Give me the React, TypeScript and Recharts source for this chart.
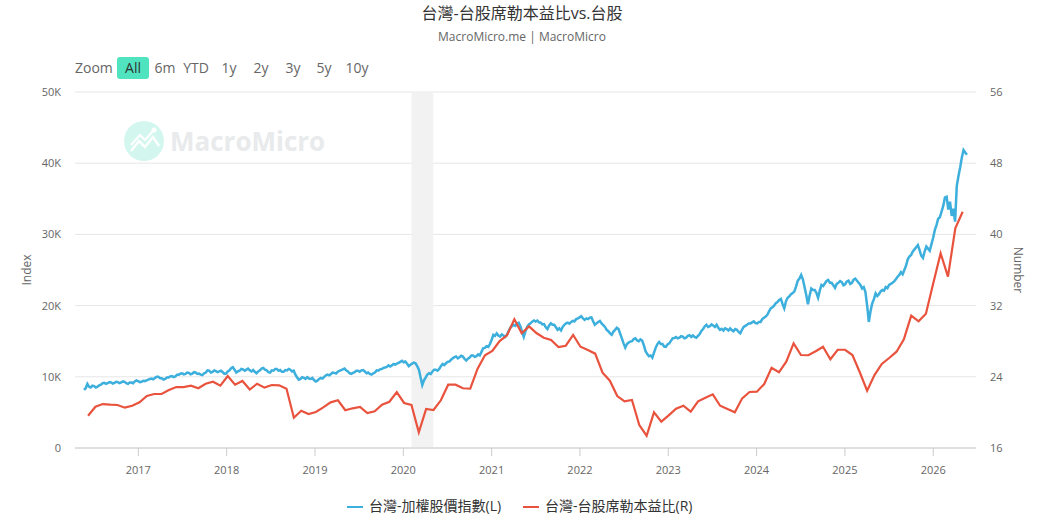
import React from "react";
import { ComposedChart, Line, XAxis, YAxis, CartesianGrid, ReferenceArea, Legend } from "recharts";

const TITLE = "台灣-台股席勒本益比vs.台股";
const SUBTITLE = "MacroMicro.me | MacroMicro";
const BLUE_NAME = "台灣-加權股價指數(L)";
const RED_NAME = "台灣-台股席勒本益比(R)";
const ZOOM_LABELS = ["All", "6m", "YTD", "1y", "2y", "3y", "5y", "10y"];
const YEAR_TICKS = [2017, 2018, 2019, 2020, 2021, 2022, 2023, 2024, 2025, 2026];
const LEFT_TICKS = [0, 10000, 20000, 30000, 40000, 50000];
const RIGHT_TICKS = [16, 24, 32, 40, 48, 56];
const RECESSION = [2020.093, 2020.34];

// Index level in thousands, sampled about weekly
const blueValues = [
  8.15, 8.4, 9.0, 8.6, 8.5, 8.75, 8.7, 8.5, 8.6, 8.8, 8.9, 9.1, 9.15, 9.0, 9.1, 9.25, 9.2, 9.05, 9.15, 9.3,
  9.25, 9.1, 9.2, 9.35, 9.3, 9.1, 9.0, 9.2, 9.2, 9.1, 9.35, 9.5, 9.4, 9.25, 9.3, 9.45, 9.4, 9.5, 9.6, 9.7,
  9.75, 9.65, 9.85, 10.0, 10.0, 9.8, 9.8, 9.6, 9.7, 9.9, 9.9, 10.05, 10.1, 9.95, 10.05, 10.3, 10.3, 10.45, 10.5, 10.35,
  10.4, 10.6, 10.55, 10.35, 10.45, 10.65, 10.6, 10.4, 10.45, 10.3, 10.25, 10.5, 10.6, 10.9, 10.85, 10.6, 10.7, 10.9, 10.8, 10.65,
  10.75, 10.85, 10.65, 10.4, 10.45, 10.75, 10.9, 11.2, 11.35, 11.0, 10.6, 10.75, 10.85, 11.1, 11.05, 10.85, 11.0, 11.15, 10.9, 10.75,
  10.95, 10.7, 10.5, 10.75, 10.9, 11.15, 11.25, 11.0, 10.9, 10.65, 10.6, 10.9, 10.85, 11.1, 11.1, 10.85, 10.95, 10.7, 10.7, 10.95,
  10.9, 11.1, 11.0, 10.75, 10.85, 10.3, 9.9, 9.6, 9.7, 9.95, 9.85, 9.7, 9.95, 9.75, 9.7, 9.85, 9.55, 9.35, 9.45, 9.7,
  9.85, 9.75, 10.0, 10.2, 10.3, 10.2, 10.4, 10.6, 10.55, 10.45, 10.7, 10.85, 10.95, 11.05, 11.15, 10.9, 10.75, 10.5, 10.4, 10.55,
  10.65, 10.85, 10.85, 10.7, 10.9, 10.95, 10.75, 10.5, 10.6, 10.4, 10.3, 10.5, 10.6, 10.9, 10.85, 11.05, 11.1, 11.25, 11.3, 11.4,
  11.6, 11.45, 11.6, 11.8, 11.7, 11.85, 11.95, 12.1, 12.25, 12.05, 12.15, 11.85, 11.5, 11.7, 11.85, 12.0, 11.9, 11.5, 11.0, 9.9,
  8.85, 9.5, 9.9, 10.3, 10.5, 10.4, 10.75, 11.0, 11.0, 10.85, 11.1, 11.5, 11.8, 11.65, 11.9, 12.1, 12.15, 12.4, 12.6, 12.75,
  12.85, 12.6, 12.75, 12.95, 12.85, 12.5, 12.3, 12.55, 12.7, 13.0, 13.0, 12.8, 12.9, 13.15, 13.0, 13.5, 14.0, 14.05, 14.3, 14.2,
  14.6, 15.2, 15.9, 15.75, 16.1, 15.8, 15.65, 15.95, 15.8, 15.6, 15.9, 16.4, 16.9, 17.1, 17.3, 17.15, 17.45, 17.6, 17.1, 16.3,
  15.6, 16.4, 17.0, 17.35, 17.5, 17.75, 17.9, 17.75, 17.9, 17.65, 17.6, 17.35, 17.4, 16.95, 16.7, 17.2, 17.5, 17.3, 17.3, 16.95,
  16.6, 16.8, 16.5, 17.0, 17.3, 17.5, 17.6, 17.45, 17.7, 17.85, 17.8, 18.1, 18.2, 18.35, 18.5, 18.2, 18.0, 18.2, 18.1, 18.3,
  18.35, 17.8, 17.3, 17.5, 17.7, 17.85, 17.5, 17.25, 17.0, 16.6, 16.4, 16.1, 15.9, 16.35, 16.6, 16.9, 16.7, 16.05, 15.4, 14.7,
  14.1, 14.6, 14.8, 14.95, 15.0, 15.3, 15.4, 15.1, 15.0, 15.25, 15.1, 14.4, 13.6, 13.2, 12.9, 13.0, 12.7, 13.4, 14.1, 14.6,
  14.9, 14.6, 14.6, 14.25, 14.2, 14.55, 14.7, 15.05, 15.4, 15.45, 15.6, 15.4, 15.5, 15.7, 15.65, 15.4, 15.5, 15.75, 15.85, 15.6,
  15.8, 15.6, 15.5, 15.75, 16.0, 16.45, 16.7, 17.1, 17.3, 17.0, 17.1, 17.35, 17.2, 17.0, 17.3, 16.9, 16.6, 16.75, 16.5, 16.8,
  16.7, 16.5, 16.8, 16.55, 16.4, 16.7, 16.6, 16.3, 16.1, 16.6, 17.0, 17.15, 17.3, 17.5, 17.5, 17.65, 17.8, 17.55, 17.5, 17.7,
  17.7, 18.1, 18.3, 18.45, 18.7, 19.2, 19.6, 19.75, 20.0, 20.35, 20.5, 20.8, 20.95, 20.2, 19.6, 20.6, 21.1, 21.3, 21.6, 21.75,
  22.0, 22.7, 23.5, 23.8, 24.3, 23.7, 22.6, 21.5, 20.2, 21.4, 22.4, 22.2, 22.2, 21.8, 21.1, 22.1, 22.9, 22.75, 23.1, 23.45,
  23.6, 23.2, 23.2, 22.85, 22.5, 23.05, 23.2, 23.45, 23.3, 22.85, 23.0, 23.4, 23.5, 23.05, 23.2, 23.65, 23.8, 23.5, 23.2, 22.9,
  22.4, 22.6, 21.9, 20.0, 17.7, 19.2, 20.3, 20.9, 21.7, 21.35, 21.6, 22.0, 22.2, 22.1, 22.6, 22.45, 22.9, 23.05, 23.2, 23.4,
  23.7, 24.05, 24.3, 24.7, 24.4, 25.0, 25.6, 26.5, 26.9, 27.1, 27.6, 27.9, 28.2, 28.5, 27.8, 27.0, 26.7, 27.6, 28.3, 28.0,
  27.7, 28.6, 29.5, 30.6, 31.3, 32.2, 32.4, 33.2, 34.0, 35.2, 35.3, 33.5, 34.6, 32.6, 33.6, 31.8, 36.8, 38.2, 39.4, 40.8,
  41.85, 41.5, 41.2,
];

// Monthly ratio, June 2016 onward
const redValues = [
  19.63, 20.64, 20.94, 20.87, 20.83, 20.53, 20.75, 21.13, 21.84, 22.07,
  22.07, 22.52, 22.85, 22.85, 23.0, 22.71, 23.22, 23.45, 23.0, 24.09,
  23.11, 23.53, 22.57, 23.22, 22.78, 23.08, 23.04, 22.66, 19.4, 20.19,
  19.82, 20.04, 20.57, 21.13, 21.36, 20.24, 20.46, 20.61, 19.93, 20.12,
  20.87, 21.2, 22.29, 21.06, 20.83, 17.76, 20.38, 20.27, 21.36, 23.11,
  23.11, 22.71, 22.66, 24.91, 26.42, 26.9, 28.02, 28.66, 30.46, 28.89,
  29.67, 28.92, 28.39, 28.13, 27.35, 27.49, 28.7, 27.38, 27.01, 26.6,
  24.46, 23.56, 21.84, 21.25, 21.39, 18.58, 17.38, 20.01, 18.96, 19.67,
  20.42, 20.75, 20.08, 21.25, 21.65, 22.03, 20.75, 20.38, 20.01, 21.58,
  22.29, 22.33, 23.19, 25.02, 24.51, 25.7, 27.76, 26.45, 26.42, 26.87,
  27.38, 25.97, 27.04, 27.04, 26.45, 24.51, 22.44, 24.2, 25.44, 26.11,
  26.82, 28.21, 30.87, 30.24, 31.09, 34.5, 37.88, 35.25, 40.69, 42.55,
];

const BLUE_START = 2016.385;
const BLUE_STEP = 0.01915;
const RED_START = 2016.431;
const RED_STEP = 0.08321;

const blueRows = blueValues.map((k, i) => ({ t: BLUE_START + i * BLUE_STEP, v: k * 1000 }));
const redRows = redValues.map((v, i) => ({ t: RED_START + i * RED_STEP, v }));

const FONT = '"Open Sans", "Noto Sans CJK TC", sans-serif';
const BLUE = "#3dafdc";
const RED = "#e9533e";
const fmtK = (v: number) => (v === 0 ? "0" : `${v / 1000}K`);

const ZOOM_X = [133, 165, 196, 229, 261, 293, 324, 357];

function LegendBox() {
  const item = (color: string, name: string, lineX: number, textX: number) => (
    <React.Fragment key={name}>
      <div style={{ position: "absolute", left: lineX, top: 13, width: 16, height: 2, background: color }} />
      <span style={{ position: "absolute", left: textX, top: 3, fontSize: 14, lineHeight: "20px", color: "#333", whiteSpace: "nowrap", fontFamily: FONT }}>{name}</span>
    </React.Fragment>
  );
  return (
    <div style={{ position: "relative", width: 1046, height: 30 }}>
      {item(BLUE, BLUE_NAME, 347, 369)}
      {item(RED, RED_NAME, 523, 545)}
    </div>
  );
}

export default function App() {
  return (
    <div style={{ position: "absolute", left: 0, top: 0, width: 1046, height: 525, overflow: "hidden", background: "#fff", fontFamily: FONT }}>
      <div style={{ position: "absolute", left: 0, width: 1046, top: 2, textAlign: "center", fontSize: 16, lineHeight: "22px", color: "#333", textIndent: -2 }}>{TITLE}</div>
      <div style={{ position: "absolute", left: 0, width: 1046, top: 28, textAlign: "center", fontSize: 12, lineHeight: "18px", color: "#666", textIndent: -2 }}>{SUBTITLE}</div>

      <span style={{ position: "absolute", left: 75, top: 58, fontSize: 14, lineHeight: "20px", color: "#666" }}>Zoom</span>
      <div style={{ position: "absolute", left: 117, top: 57, width: 32, height: 22, borderRadius: 3, background: "#4fe3bf" }} />
      {ZOOM_LABELS.map((z, i) => (
        <span key={z} style={{ position: "absolute", left: ZOOM_X[i] - 30, width: 60, top: 58, textAlign: "center", fontSize: 14, lineHeight: "20px", color: i === 0 ? "#333" : "#666" }}>{z}</span>
      ))}

      <svg width={240} height={60} style={{ position: "absolute", left: 120, top: 112 }}>
        <circle cx={24} cy={29} r={20} fill="#d3f7ee" />
        <polyline points="11,39 19,29 25,35 33,25 39,34" fill="none" stroke="#fff" strokeWidth={2.5} />
        <polyline points="11,33 20,23 25,28 33,19" fill="none" stroke="#fff" strokeWidth={2} />
        <circle cx={34} cy={18} r={2.5} fill="#fff" />
        <text x={50} y={39} fontSize={26} fontWeight={700} fill="#e8eaec" fontFamily={FONT}>MacroMicro</text>
      </svg>

      <div style={{ position: "absolute", left: 0, top: 0 }}>
        <ComposedChart width={1046} height={525} margin={{ top: 92, right: 0, bottom: 0, left: 0 }}>
          <CartesianGrid yAxisId="left" horizontal vertical={false} stroke="#e6e6e6" strokeWidth={1} syncWithTicks />
          <XAxis
            dataKey="t"
            type="number"
            domain={[2016.283, 2026.484]}
            ticks={YEAR_TICKS}
            allowDataOverflow
            height={30}
            stroke="#cccccc"
            tickSize={8}
            tickMargin={10}
            tick={{ fill: "#666", fontSize: 11, fontFamily: FONT }}
          />
          <YAxis
            yAxisId="left"
            domain={[0, 50000]}
            ticks={LEFT_TICKS}
            width={75}
            axisLine={false}
            tickLine={false}
            tickMargin={8}
            tickFormatter={fmtK}
            tick={{ fill: "#666", fontSize: 11, fontFamily: FONT }}
            label={{ value: "Index", angle: -90, position: "insideLeft", offset: 27, style: { fill: "#666", fontSize: 12, fontFamily: FONT, textAnchor: "middle" } }}
          />
          <YAxis
            yAxisId="right"
            orientation="right"
            domain={[16, 56]}
            ticks={RIGHT_TICKS}
            width={70}
            axisLine={false}
            tickLine={false}
            tickMargin={8}
            tick={{ fill: "#666", fontSize: 11, fontFamily: FONT }}
            label={{ value: "Number", angle: 90, position: "insideRight", offset: 28, style: { fill: "#666", fontSize: 12, fontFamily: FONT, textAnchor: "middle" } }}
          />
          <ReferenceArea yAxisId="left" x1={RECESSION[0]} x2={RECESSION[1]} y1={0} y2={50000} fill="#f2f2f2" fillOpacity={1} stroke="none" />
          <Line yAxisId="left" data={blueRows} dataKey="v" name={BLUE_NAME} stroke={BLUE} strokeWidth={2.5} dot={false} isAnimationActive={false} />
          <Line yAxisId="right" data={redRows} dataKey="v" name={RED_NAME} stroke={RED} strokeWidth={2.2} dot={false} isAnimationActive={false} />
          <Legend verticalAlign="bottom" height={47} content={<LegendBox />} wrapperStyle={{ left: 0, top: 493, bottom: "auto", width: 1046 }} />
        </ComposedChart>
      </div>
    </div>
  );
}
